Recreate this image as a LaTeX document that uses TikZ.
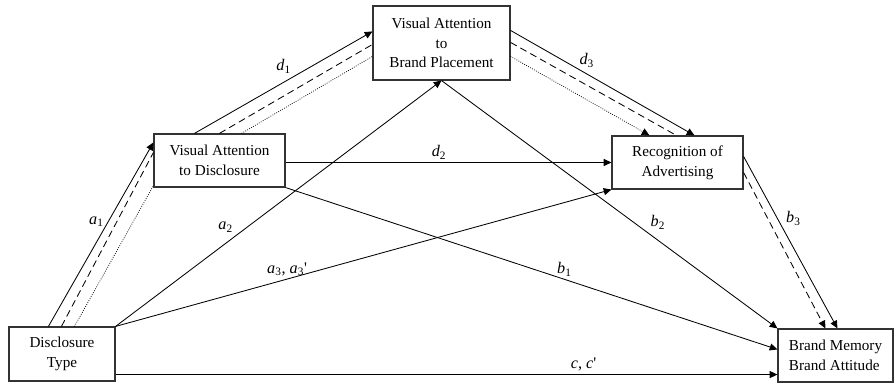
\documentclass[tikz,border=0pt]{standalone}
\usepackage{fontspec}
\setmainfont{Liberation Serif}
\usetikzlibrary{arrows.meta,positioning}

\newcommand{\coef}[2]{\textit{#1}\textsubscript{#2}}

\begin{document}
\begin{tikzpicture}[
      mybox/.style={
         draw=black!80,
         line width=0.8pt,
         align=center,
         inner sep=2pt,
         font=\fontsize{10.8}{14}\selectfont},
      myarrow/.style={-{Triangle[length=5.5pt,width=5pt]},line width=0.6pt},
      mydash/.style={line width=0.6pt,dash pattern=on 5pt off 3pt},
      mydot/.style={line width=0.5pt,dash pattern=on 0.6pt off 1pt},
      lbl/.style={font=\fontsize{11.5}{13}\selectfont,inner sep=2pt}
      ]
      \useasboundingbox (0,0) rectangle (22.4,9.65);

      \node[mybox,minimum width=2.65cm,minimum height=1.35cm] (dt) at (1.55,0.8) {Disclosure\\Type};
      \node[mybox,minimum width=3.275cm,minimum height=1.325cm] (vad) at (5.4875,5.6375) {Visual Attention\\to Disclosure};
      \node[mybox,minimum width=3.425cm,minimum height=1.85cm] (vab) at (11.0375,8.575) {Visual Attention\\to\\Brand Placement};
      \node[mybox,minimum width=3.275cm,minimum height=1.325cm] (rec) at (16.9375,5.5875) {Recognition of\\Advertising};
      \node[mybox,align=left,minimum width=2.875cm,minimum height=1.325cm] (bm) at (20.8875,0.7625) {Brand Memory\\Brand Attitude};

      \coordinate (cs) at ([yshift=0.175cm]dt.south east);

      % disclosure type
      \draw[myarrow] ([xshift=1cm]dt.north west) -- node[lbl,pos=0.57,left=1pt] {\coef{a}{1}} ([yshift=-0.225cm]vad.north west);
      \draw[mydash] ([xshift=1.325cm]dt.north west) -- ([yshift=-0.475cm]vad.north west);
      \draw[mydot] ([xshift=1.65cm]dt.north west) -- ([yshift=0.05cm]vad.south west);
      \draw[myarrow] (dt.north east) -- node[lbl,pos=0.37,above left] {\coef{a}{2}} (vab.south);
      \draw[myarrow] (dt.north east) -- node[lbl,pos=0.346,above] {\coef{a}{3}, \coef{a}{3}\textquotesingle} (rec.south west);
      \draw[myarrow] (cs) -- node[lbl,pos=0.707,above] {\textit{c}, \textit{c}\textquotesingle} (cs -| bm.west);

      % visual attention to disclosure
      \draw[myarrow] ([xshift=1.025cm]vad.north west) -- node[lbl,pos=0.56,above left] {\coef{d}{1}} ([yshift=-0.65cm]vab.north west);
      \draw[mydash] ([xshift=1.65cm]vad.north west) -- ([yshift=-0.975cm]vab.north west);
      \draw[mydot] ([xshift=2.2cm]vad.north west) -- ([yshift=-1.275cm]vab.north west);
      \draw[myarrow] (rec.west -| vad.east) -- node[lbl,pos=0.471,above] {\coef{d}{2}} (rec.west);
      \draw[myarrow] (vad.south east) -- node[lbl,pos=0.567,above] {\coef{b}{1}} ([yshift=-0.525cm]bm.north west);

      % visual attention to brand placement
      \draw[myarrow] ([yshift=-0.625cm]vab.north east) -- node[lbl,pos=0.384,above,xshift=4pt] {\coef{d}{3}} ([xshift=2.075cm]rec.north west);
      \draw[mydash] ([yshift=-0.925cm]vab.north east) -- ([xshift=1.625cm]rec.north west);
      \draw[myarrow,mydot] ([yshift=-1.275cm]vab.north east) -- ([xshift=0.95cm]rec.north west);
      \draw[myarrow] (vab.south) -- node[lbl,pos=0.613,above right] {\coef{b}{2}} (bm.north west);

      % recognition
      \draw[myarrow] ([yshift=-0.525cm]rec.north east) -- node[lbl,pos=0.42,above right] {\coef{b}{3}} ([xshift=1.5cm]bm.north west);
      \draw[myarrow,mydash] ([yshift=-0.925cm]rec.north east) -- ([xshift=1.2cm]bm.north west);

\end{tikzpicture}
\end{document}
